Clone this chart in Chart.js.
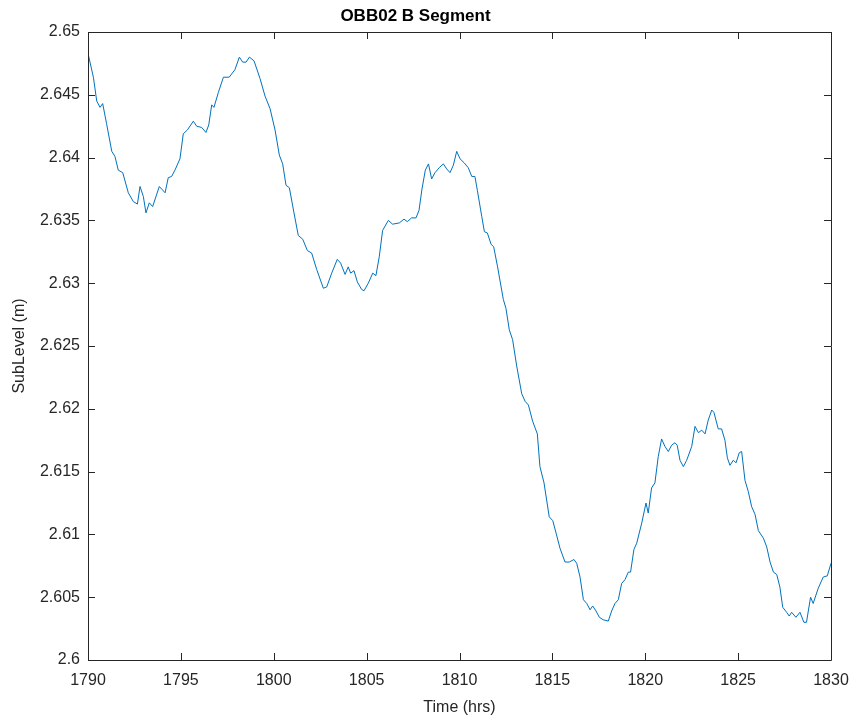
<!DOCTYPE html>
<html>
<head>
<meta charset="utf-8">
<script src="https://cdn.jsdelivr.net/npm/chart.js@4/dist/chart.umd.min.js"></script>
<style>
  body { margin: 0; background: #fff; }
  canvas { display: block; }
</style>
</head>
<body>
<canvas id="levelChart" width="857" height="723"></canvas>
<script>
// values
const timeHrs = [
  1790.00, 1790.29, 1790.47, 1790.65, 1790.79, 1791.00, 1791.28, 1791.45, 1791.63, 1791.87,
  1792.17, 1792.44, 1792.66, 1792.80, 1792.98, 1793.12, 1793.30, 1793.48, 1793.84, 1794.15,
  1794.32, 1794.50, 1794.68, 1794.95, 1795.13, 1795.35, 1795.67, 1795.85, 1796.12, 1796.35,
  1796.50, 1796.66, 1796.78, 1797.02, 1797.29, 1797.60, 1797.91, 1798.15, 1798.33, 1798.51,
  1798.69, 1798.94, 1799.26, 1799.53, 1799.80, 1800.07, 1800.30, 1800.48, 1800.66, 1800.84,
  1801.09, 1801.32, 1801.56, 1801.81, 1802.04, 1802.31, 1802.67, 1802.85, 1803.12, 1803.42,
  1803.60, 1803.84, 1804.01, 1804.14, 1804.32, 1804.50, 1804.73, 1804.86, 1805.09, 1805.33,
  1805.50, 1805.68, 1805.86, 1806.17, 1806.40, 1806.76, 1807.01, 1807.19, 1807.42, 1807.66,
  1807.82, 1807.98, 1808.16, 1808.33, 1808.50, 1808.68, 1808.91, 1809.13, 1809.31, 1809.49,
  1809.67, 1809.85, 1810.03, 1810.24, 1810.47, 1810.66, 1810.83, 1810.96, 1811.20, 1811.34,
  1811.50, 1811.70, 1811.84, 1812.05, 1812.36, 1812.50, 1812.68, 1812.86, 1813.08, 1813.35,
  1813.53, 1813.71, 1813.94, 1814.19, 1814.33, 1814.55, 1814.83, 1815.02, 1815.20, 1815.41,
  1815.68, 1815.91, 1816.16, 1816.31, 1816.49, 1816.67, 1816.85, 1817.03, 1817.17, 1817.35,
  1817.53, 1817.74, 1818.01, 1818.19, 1818.37, 1818.55, 1818.73, 1818.91, 1819.09, 1819.21,
  1819.39, 1819.54, 1819.81, 1820.04, 1820.16, 1820.34, 1820.52, 1820.70, 1820.88, 1821.06,
  1821.24, 1821.42, 1821.60, 1821.72, 1821.87, 1822.05, 1822.23, 1822.50, 1822.68, 1822.86,
  1823.04, 1823.22, 1823.39, 1823.58, 1823.70, 1823.93, 1824.11, 1824.29, 1824.42, 1824.56,
  1824.74, 1824.89, 1825.06, 1825.19, 1825.37, 1825.55, 1825.73, 1825.91, 1826.09, 1826.36,
  1826.54, 1826.72, 1826.90, 1827.08, 1827.25, 1827.40, 1827.61, 1827.75, 1827.88, 1828.11,
  1828.33, 1828.54, 1828.68, 1828.90, 1829.04, 1829.31, 1829.58, 1829.80, 1830.00
];
const subLevel = [
  2.6483, 2.6464, 2.6445, 2.6440, 2.6443, 2.6427, 2.6405, 2.6401, 2.6390, 2.6388,
  2.6372, 2.6365, 2.6363, 2.6377, 2.6369, 2.6356, 2.6364, 2.6361, 2.6377, 2.6372,
  2.6384, 2.6385, 2.6390, 2.6399, 2.6419, 2.6422, 2.6429, 2.6425, 2.6424, 2.6420,
  2.6426, 2.6442, 2.6440, 2.6452, 2.6464, 2.6464, 2.6470, 2.6480, 2.6476, 2.6476,
  2.6480, 2.6477, 2.6463, 2.6449, 2.6439, 2.6422, 2.6402, 2.6395, 2.6378, 2.6376,
  2.6356, 2.6338, 2.6335, 2.6326, 2.6324, 2.6311, 2.6296, 2.6297, 2.6308, 2.6319,
  2.6316, 2.6307, 2.6313, 2.6308, 2.6310, 2.6301, 2.6295, 2.6294, 2.6300, 2.6308,
  2.6306, 2.6321, 2.6342, 2.6350, 2.6347, 2.6348, 2.6351, 2.6349, 2.6352, 2.6352,
  2.6358, 2.6375, 2.6390, 2.6395, 2.6383, 2.6388, 2.6392, 2.6395, 2.6391, 2.6388,
  2.6394, 2.6405, 2.6399, 2.6396, 2.6392, 2.6385, 2.6385, 2.6374, 2.6353, 2.6341,
  2.6340, 2.6331, 2.6329, 2.6313, 2.6287, 2.6280, 2.6263, 2.6255, 2.6234, 2.6212,
  2.6206, 2.6203, 2.6190, 2.6180, 2.6154, 2.6141, 2.6114, 2.6111, 2.6101, 2.6089,
  2.6078, 2.6078, 2.6080, 2.6077, 2.6066, 2.6048, 2.6045, 2.6040, 2.6043, 2.6039,
  2.6034, 2.6032, 2.6031, 2.6039, 2.6045, 2.6048, 2.6061, 2.6064, 2.6070, 2.6070,
  2.6088, 2.6093, 2.6109, 2.6125, 2.6117, 2.6137, 2.6141, 2.6162, 2.6176, 2.6170,
  2.6166, 2.6171, 2.6173, 2.6171, 2.6159, 2.6154, 2.6159, 2.6170, 2.6186, 2.6181,
  2.6183, 2.6180, 2.6191, 2.6199, 2.6197, 2.6184, 2.6184, 2.6175, 2.6161, 2.6155,
  2.6159, 2.6157, 2.6165, 2.6166, 2.6143, 2.6134, 2.6122, 2.6116, 2.6103, 2.6097,
  2.6090, 2.6078, 2.6070, 2.6068, 2.6058, 2.6042, 2.6038, 2.6035, 2.6038, 2.6034,
  2.6038, 2.6030, 2.6030, 2.6050, 2.6045, 2.6057, 2.6066, 2.6067, 2.6077
];
const xTicks = [1790, 1795, 1800, 1805, 1810, 1815, 1820, 1825, 1830];
const yTicks = [2.6, 2.605, 2.61, 2.615, 2.62, 2.625, 2.63, 2.635, 2.64, 2.645, 2.65];

const axisColor = '#262626';
const fontFamily = '"Liberation Sans", Arial, Helvetica, sans-serif';

// matlab style box with inward ticks on all four sides
const boxPlugin = {
  id: 'matlabBox',
  beforeDraw(chart) {
    const ctx = chart.ctx;
    ctx.save();
    ctx.fillStyle = '#fff';
    ctx.fillRect(0, 0, chart.width, chart.height);
    ctx.restore();
  },
  afterDraw(chart) {
    const { ctx, chartArea: a, scales } = chart;
    const len = 7;
    ctx.save();
    ctx.strokeStyle = axisColor;
    ctx.lineWidth = 1;
    ctx.beginPath();
    ctx.rect(Math.round(a.left) + 0.5, Math.round(a.top) + 0.5,
             Math.round(a.right - a.left), Math.round(a.bottom - a.top));
    scales.x.ticks.forEach(t => {
      const px = Math.round(scales.x.getPixelForValue(t.value)) + 0.5;
      ctx.moveTo(px, a.bottom); ctx.lineTo(px, a.bottom - len);
      ctx.moveTo(px, a.top); ctx.lineTo(px, a.top + len);
    });
    scales.y.ticks.forEach(t => {
      const py = Math.round(scales.y.getPixelForValue(t.value)) + 0.5;
      ctx.moveTo(a.left, py); ctx.lineTo(a.left + len, py);
      ctx.moveTo(a.right, py); ctx.lineTo(a.right - len, py);
    });
    ctx.stroke();
    ctx.restore();
  }
};

const ctx = document.getElementById('levelChart').getContext('2d');
new Chart(ctx, {
  type: 'line',
  data: {
    datasets: [{
      label: 'SubLevel',
      data: timeHrs.map((t, i) => ({ x: t, y: subLevel[i] })),
      borderColor: '#0072BD',
      borderWidth: 1,
      pointRadius: 0,
      tension: 0,
      fill: false
    }]
  },
  options: {
    responsive: false,
    animation: false,
    layout: { padding: { left: 0, right: 26, top: 0, bottom: 0 } },
    plugins: {
      legend: { display: false },
      tooltip: { enabled: false },
      title: {
        display: true,
        text: 'OBB02 B Segment',
        color: '#000',
        font: { family: fontFamily, size: 17, weight: 'bold', lineHeight: 1.2 },
        padding: { top: 6, bottom: 5.6 }
      }
    },
    scales: {
      x: {
        type: 'linear',
        min: 1790,
        max: 1830,
        afterBuildTicks: s => { s.ticks = xTicks.map(v => ({ value: v })); },
        afterFit: s => { s.height = 63; s.paddingLeft = 0; s.paddingRight = 0; },
        grid: { display: false, drawTicks: false },
        border: { display: false },
        ticks: {
          color: axisColor,
          font: { family: fontFamily, size: 16 },
          padding: 11,
          maxRotation: 0,
          autoSkip: false,
          callback: v => String(v)
        },
        title: {
          display: true,
          text: 'Time (hrs)',
          color: axisColor,
          font: { family: fontFamily, size: 16, lineHeight: 1.2 },
          padding: { top: 0, bottom: 6 }
        }
      },
      y: {
        type: 'linear',
        min: 2.6,
        max: 2.65,
        afterBuildTicks: s => { s.ticks = yTicks.map(v => ({ value: v })); },
        afterFit: s => { s.width = 88; },
        grid: { display: false, drawTicks: false },
        border: { display: false },
        ticks: {
          color: axisColor,
          font: { family: fontFamily, size: 16 },
          padding: 8,
          autoSkip: false,
          callback: v => String(Number(v.toFixed(3)))
        },
        title: {
          display: true,
          text: 'SubLevel (m)',
          color: axisColor,
          font: { family: fontFamily, size: 16, lineHeight: 1.2 },
          padding: { top: 10, bottom: 0 }
        }
      }
    }
  },
  plugins: [boxPlugin]
});
</script>
</body>
</html>
